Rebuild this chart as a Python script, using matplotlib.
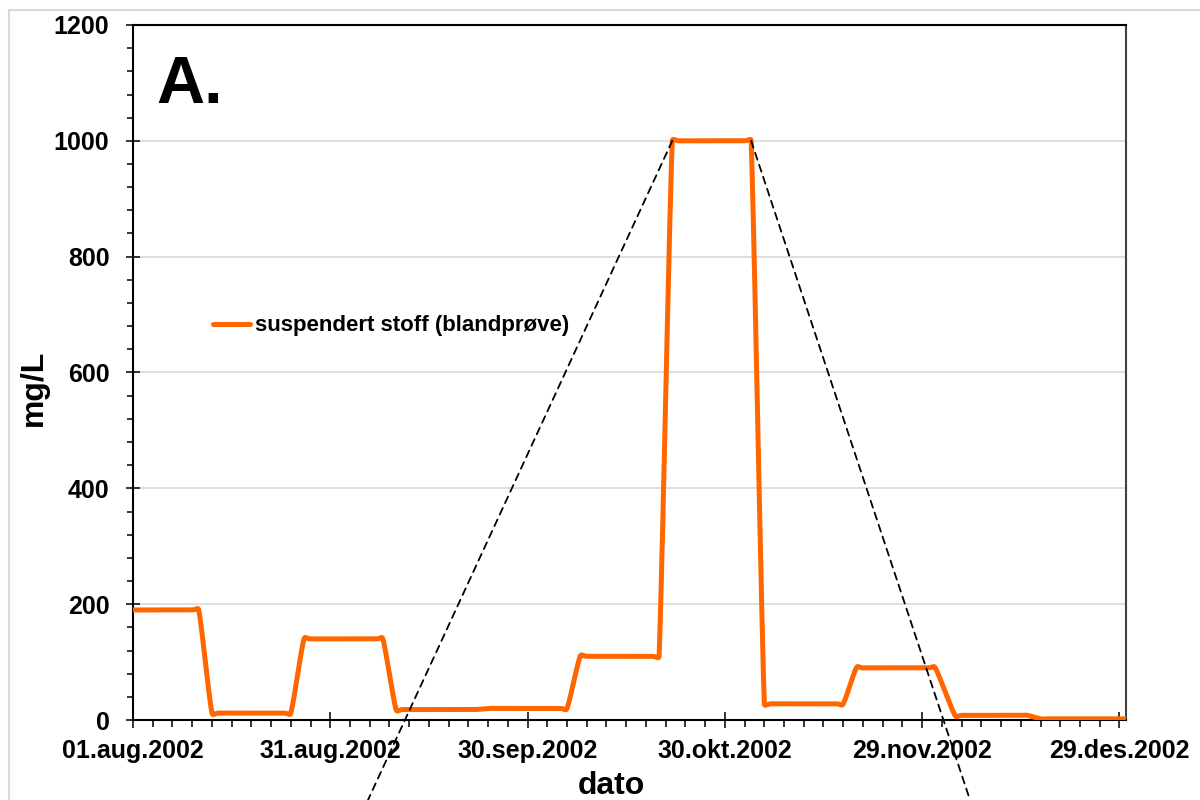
import numpy as np
import matplotlib
matplotlib.use('Agg')
import matplotlib.pyplot as plt
import matplotlib.dates as mdates
from matplotlib.patches import ConnectionPatch, Rectangle

plt.rcParams['font.family'] = ['Liberation Sans', 'DejaVu Sans']
plt.rcParams['font.weight'] = 'bold'

# sample periods (start/end of each blandprøve) and concentration
dates = ['2002-08-01', '2002-08-11', '2002-08-13', '2002-08-25', '2002-08-27',
         '2002-09-08', '2002-09-10', '2002-09-22', '2002-09-24', '2002-10-06',
         '2002-10-08', '2002-10-20', '2002-10-22', '2002-11-03', '2002-11-05',
         '2002-11-17', '2002-11-19', '2002-12-01', '2002-12-04', '2002-12-15',
         '2002-12-17', '2002-12-30']
values = [190, 190, 12, 12, 140,
          140, 18, 18, 20, 20,
          110, 110, 1000, 1000, 28,
          28, 90, 90, 8, 8,
          2, 2]

tick_dates = ['2002-08-01', '2002-08-31', '2002-09-30', '2002-10-30', '2002-11-29', '2002-12-29']
tick_labels = ['01.aug.2002', '31.aug.2002', '30.sep.2002', '30.okt.2002', '29.nov.2002', '29.des.2002']

series_label = 'suspendert stoff (blandprøve)'
ORANGE = '#ff6600'

x = mdates.datestr2num(dates)
y = np.array(values, dtype=float)
xt = mdates.datestr2num(tick_dates)


def excel_smooth(ax, x, y, n=30):
    # excel-like smoothed line, done in pixel space. plateaus behave as if
    # sampled daily, so the rounding stays close to the corners.
    P = ax.transData.transform(np.column_stack([x, y]))
    day = ax.transData.transform([(x[0] + 1, 0)])[0, 0] - ax.transData.transform([(x[0], 0)])[0, 0]
    nodes = [P[0]]
    for i in range(len(P) - 1):
        p1, p2 = P[i], P[i + 1]
        if y[i] == y[i + 1] and p2[0] - p1[0] > 2 * day:
            nodes.append(p1 + (day, 0))
            nodes.append(p2 - (day, 0))
        nodes.append(p2)
    N = np.array(nodes)

    def tang(i, seg_len):
        a = N[i - 1] if i > 0 else N[i]
        b = N[i + 1] if i < len(N) - 1 else N[i]
        T = (b - a) / 6.0
        L = np.hypot(*T)
        cap = 0.5 * seg_len
        return T * cap / L if L > cap else T

    out = [N[0]]
    t = np.linspace(0, 1, n)[1:, None]
    for i in range(len(N) - 1):
        p1, p2 = N[i], N[i + 1]
        d = np.hypot(*(p2 - p1))
        c1 = p1 + tang(i, d)
        c2 = p2 - tang(i + 1, d)
        seg = (1 - t) ** 3 * p1 + 3 * (1 - t) ** 2 * t * c1 + 3 * (1 - t) * t ** 2 * c2 + t ** 3 * p2
        out.extend(seg)
    out = ax.transData.inverted().transform(np.array(out))
    return out[:, 0], out[:, 1]


fig = plt.figure(figsize=(12, 8), dpi=100)
ax = fig.add_axes([133 / 1200, 0.1, (1126 - 133) / 1200, 0.86875])
ax.set_xlim(x[0], x[-1])
ax.set_ylim(0, 1200)

xs, ys = excel_smooth(ax, x, y)
ax.plot(xs, ys, color=ORANGE, lw=3.6, label=series_label, solid_capstyle='round',
        solid_joinstyle='round', zorder=3)

ax.set_xticks(xt)
ax.set_xticklabels(tick_labels)
ax.set_xticks(np.arange(x[0], x[-1] + 0.1, 3), minor=True)
ax.set_yticks(np.arange(0, 1201, 200))
ax.set_yticks(np.arange(0, 1201, 40), minor=True)

ax.tick_params(axis='x', which='major', direction='inout', length=11, width=1.1, labelsize=18, pad=8)
ax.tick_params(axis='x', which='minor', direction='out', length=5, width=1.1)
ax.tick_params(axis='y', which='major', direction='inout', length=10, width=1.1, labelsize=18, pad=12)
ax.tick_params(axis='y', which='minor', direction='out', length=4.3, width=1.1)

ax.grid(axis='y', which='major', color='#d9d9d9', lw=1.2)
ax.set_axisbelow(True)
for s in ['left', 'bottom', 'top']:
    ax.spines[s].set_linewidth(1.5)
    ax.spines[s].set_color('black')
ax.spines['right'].set_linewidth(1.5)
ax.spines['right'].set_color('#404040')

fig.text(611 / 1200, 6 / 800, 'dato', fontsize=23, fontweight='bold', ha='center', va='baseline')
fig.text(34 / 1200, 1 - 388 / 800, 'mg/L', fontsize=23, fontweight='bold', ha='center', va='center',
         rotation=90)

ax.text(0.024, 0.888, 'A.', transform=ax.transAxes, fontsize=48, fontweight='bold',
        ha='left', va='baseline')

ax.legend(loc='center left', bbox_to_anchor=(0.0806, 0.567), frameon=False,
          fontsize=16, handlelength=1.67, handletextpad=0.2, borderaxespad=0, borderpad=0)

# dashed zoom lines from the 1000 plateau down past the figure bottom
zoom_from = [x[12], x[13]]
zoom_to = [368 / 1200, 970 / 1200]
for xa, xb in zip(zoom_from, zoom_to):
    cp = ConnectionPatch(xyA=(xa, 1000), coordsA='data', xyB=(xb, 0), coordsB='figure fraction',
                         axesA=ax, color='black', lw=1.3, ls=(0, (4, 3)), zorder=4)
    fig.add_artist(cp)

# light frame around the chart area
fig.add_artist(Rectangle((9 / 1200, -0.1), 1.2, 1 - 10 / 800 + 0.1, transform=fig.transFigure,
                         fill=False, edgecolor='#d9d9d9', lw=1.5))

fig.savefig('out.png', dpi=100)
